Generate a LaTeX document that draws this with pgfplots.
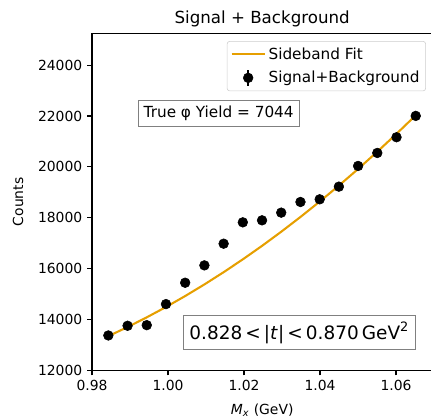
\documentclass[border=0pt]{standalone}
\usepackage{pgfplots}
\pgfplotsset{compat=1.18}
\usepackage{pgfplotstable}
\usepackage{fontspec}
\setmainfont{DejaVu Sans}
\definecolor{fitorange}{HTML}{E69F00}

\pgfplotstableread{
x y e
0.98430 13377 116
0.98936 13758 117
0.99441 13782 117
0.99947 14609 121
1.00452 15449 124
1.00958 16131 127
1.01464 16983 130
1.01969 17822 134
1.02475 17901 134
1.02980 18203 135
1.03486 18622 136
1.03992 18727 137
1.04497 19225 139
1.05003 20038 142
1.05508 20549 143
1.06014 21166 145
1.06520 22005 148
}\datatable

\pgfplotstableread{
x y
0.98430 13350
0.98936 13707
0.99441 14089
0.99947 14495
1.00452 14926
1.00958 15382
1.01464 15863
1.01969 16368
1.02475 16898
1.02980 17453
1.03486 18033
1.03992 18637
1.04497 19266
1.05003 19919
1.05508 20598
1.06014 21301
1.06520 22029
}\fittable

\begin{document}
\begin{tikzpicture}
\begin{axis}[
  scale only axis, width=245pt, height=242.78pt,
  at={(0,0)}, anchor=south west,
  xmin=0.98, xmax=1.06955, ymin=12000, ymax=25250,
  axis line style={line width=0.8pt, black},
  tick pos=left, tick align=outside, major tick length=3.5pt,
  tick style={black, line width=0.8pt},
  xtick={0.98,1.00,1.02,1.04,1.06},
  ytick={12000,14000,16000,18000,20000,22000,24000},
  scaled ticks=false,
  /pgf/number format/assume math mode=true,
  xticklabel style={/pgf/number format/.cd, fixed, fixed zerofill, precision=2},
  yticklabel style={/pgf/number format/.cd, fixed, 1000 sep={}},
  ticklabel style={font=\fontsize{10}{12}\selectfont},
  title={Signal + Background},
  title style={font=\fontsize{12}{14}\selectfont, yshift=-5pt},
  xlabel={\textit{M}\textsubscript{\textit{x}} (GeV)},
  ylabel={Counts},
  label style={font=\fontsize{10}{12}\selectfont},
  xlabel style={at={(axis description cs:0.5,-0.117)}, anchor=center},
  ylabel style={at={(axis description cs:-0.2175,0.5)}, anchor=center, rotate=0},
  legend cell align=left,
  legend style={at={(0.9815,0.977)}, anchor=north east, draw=black!20,
    rounded corners=2pt, fill=white, inner sep=2.5pt,
    font=\fontsize{11}{13}\selectfont, row sep=3pt},
]
\addplot[fitorange, line width=1.5pt, no marks,
  legend image code/.code={\draw[fitorange, line width=1.5pt] (0cm,0cm) -- (0.84cm,0cm);}]
  table[x=x, y=y]{\fittable};
\addlegendentry{Sideband Fit}
\addplot[only marks, mark=*, mark size=3.5pt, black,
  legend image code/.code={\draw[black, line width=1.5pt] (0.42cm,-0.2cm) -- (0.42cm,0.2cm);
    \fill[black] (0.42cm,0cm) circle (3.5pt);},
  error bars/.cd, y dir=both, y explicit,
  error bar style={line width=1.5pt, black}, error mark=none]
  table[x=x, y=y, y error=e]{\datatable};
\addlegendentry{Signal+Background}
\node[draw=black!50, fill=white, line width=0.8pt, inner sep=4pt,
  font=\fontsize{11}{13}\selectfont] at (axis cs:1.01334,22103) {True φ Yield = 7044};
\node[draw=black!50, fill=white, line width=0.8pt, inner sep=4.5pt,
  font=\fontsize{13.3}{15}\selectfont] at (axis cs:1.03455,13483)
  {0.828\,<\,|\textit{t}|\,<\,0.870\,GeV\textsuperscript{2}};
\end{axis}
\pgfresetboundingbox
\path[use as bounding box] (-66.24pt,-33.48pt) rectangle (244.08pt,266.76pt);
\end{tikzpicture}
\end{document}
